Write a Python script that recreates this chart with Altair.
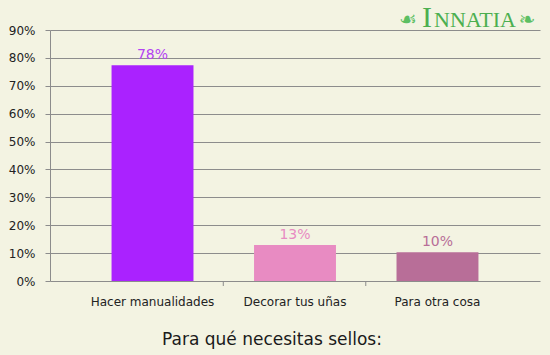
import altair as alt
import pandas as pd

categories = ["Hacer manualidades", "Decorar tus uñas", "Para otra cosa"]
values = [77.4, 12.9, 10.3]
labels = ["78%", "13%", "10%"]
bar_colors = ["#aa22ff", "#e88bc2", "#b86e98"]
label_colors = ["#b444f2", "#e88bc2", "#b86e98"]
y_ticks = [0, 10, 20, 30, 40, 50, 60, 70, 80, 90]
tick_cats = ["Decorar tus uñas", "Para otra cosa"]
title_text = "Para qué necesitas sellos:"

df = pd.DataFrame({"cat": categories, "val": values, "lab": labels, "lc": label_colors})
ticks_df = pd.DataFrame({"cat": tick_cats})

FONT = "DejaVu Sans"
BG = "#f3f3e2"
GRID = "#8c8c8c"

xscale = alt.Scale(domain=categories, paddingInner=0.425, paddingOuter=0.432)
yscale = alt.Scale(domain=[0, 90], nice=False, zero=True)

xaxis = alt.Axis(title=None, labelAngle=0, ticks=False, domain=False,
                 labelFontSize=12, labelColor="#222222", labelFont=FONT,
                 labelPadding=15)
yaxis = alt.Axis(title=None, values=y_ticks, labelExpr="datum.value + '%'",
                 grid=True, gridColor=GRID, gridOpacity=1, gridWidth=1,
                 tickColor=GRID, tickSize=5, domainColor=GRID,
                 labelFontSize=12, labelColor="#222222", labelFont=FONT,
                 labelPadding=10, labelOverlap=False, labelFlush=False)

x = alt.X("cat:N", sort=categories, scale=xscale, axis=xaxis)
y = alt.Y("val:Q", scale=yscale, axis=yaxis)

base = alt.Chart(df)

bars = base.mark_bar().encode(
    x=x, y=y,
    color=alt.Color("cat:N", scale=alt.Scale(domain=categories, range=bar_colors), legend=None),
)

text = base.mark_text(baseline="bottom", dy=-3, fontSize=14, font=FONT).encode(
    x=x, y=y,
    text="lab:N",
    color=alt.Color("lc:N", scale=None),
)

xticks = alt.Chart(ticks_df).mark_rule(color=GRID, xOffset=-30.75).encode(
    x=alt.X("cat:N", sort=categories, scale=xscale, bandPosition=0, axis=xaxis),
    y=alt.value(251),
    y2=alt.value(256),
)

LOGO = "#4caf50"
logo_i = alt.Chart(pd.DataFrame({"t": ["I"]})).mark_text(
    font="Liberation Serif", fontSize=30, color=LOGO, align="left", baseline="alphabetic"
).encode(x=alt.value(372), y=alt.value(-3), text="t:N")

logo_rest = alt.Chart(pd.DataFrame({"t": ["NNATIA"]})).mark_text(
    font="Liberation Serif", fontSize=22, color=LOGO, align="left", baseline="alphabetic"
).encode(x=alt.value(384), y=alt.value(-3), text="t:N")

orn_l = alt.Chart(pd.DataFrame({"t": ["☙"]})).mark_text(
    font=FONT, fontSize=20, color="#5cbf62", align="center", baseline="middle"
).encode(x=alt.value(358), y=alt.value(-10), text="t:N")

orn_r = alt.Chart(pd.DataFrame({"t": ["❧"]})).mark_text(
    font=FONT, fontSize=20, color="#5cbf62", align="center", baseline="middle"
).encode(x=alt.value(477), y=alt.value(-10), text="t:N")

chart = alt.layer(bars, text, xticks, logo_i, logo_rest, orn_l, orn_r).properties(
    width=490, height=251,
    padding={"left": 50, "top": 30, "right": 10, "bottom": 74},
    autosize=alt.AutoSizeParams(type="none"),
    background=BG,
    title=alt.TitleParams(title_text, orient="bottom", anchor="middle", fontSize=17,
                          font=FONT, color="#1a1a1a", fontWeight="normal", offset=25, dx=-23),
).configure_view(stroke=None, fill=BG)

chart.save("out.html", embed_options={"renderer": "svg", "actions": False})
